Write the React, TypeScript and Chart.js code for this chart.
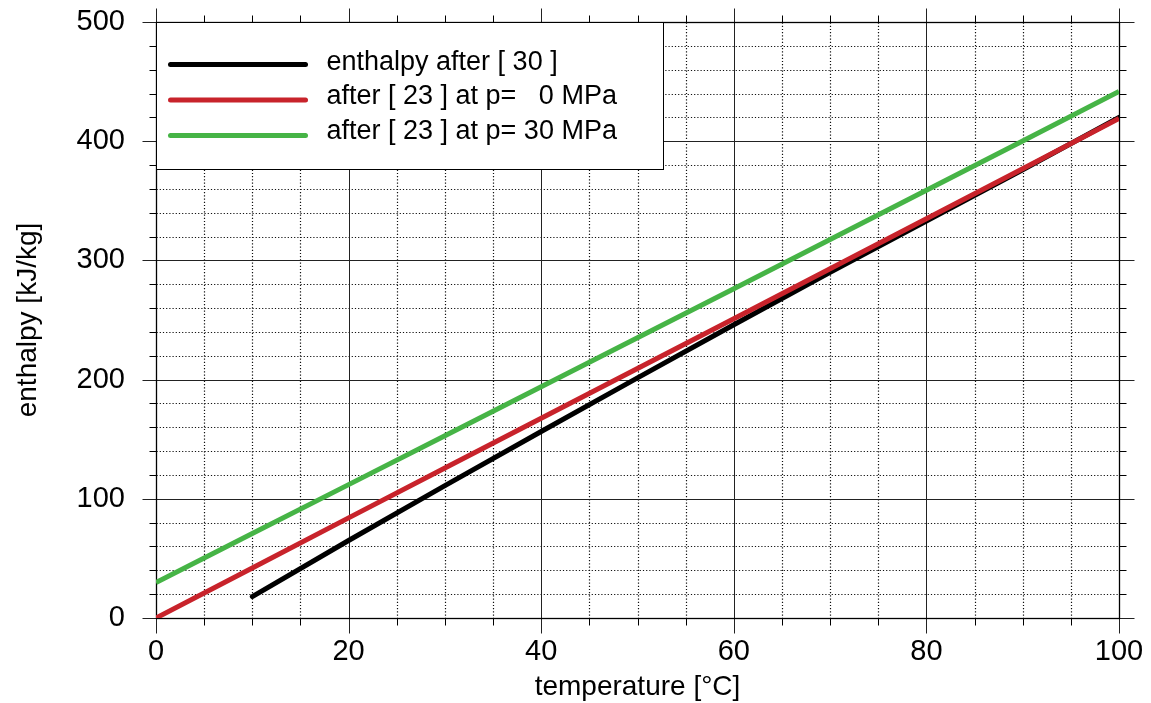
import React, { useEffect, useRef } from "react";
import { Chart, registerables } from "chart.js";

Chart.register(...registerables);

// Data (temperature in °C, enthalpy in kJ/kg)
const blackT = [10, 20, 30, 40, 50, 60, 70, 80, 90, 100];
const blackH = [18, 65, 111, 156.5, 201.5, 246, 290, 333, 376, 420];
const redT = [0, 10, 20, 30, 40, 50, 60, 70, 80, 90, 100];
const redH = [0, 42, 84, 125.8, 167.5, 209.3, 251.1, 293, 334.9, 376.9, 419];
const greenT = [0, 10, 20, 30, 40, 50, 60, 70, 80, 90, 100];
const greenH = [29.8, 70.9, 111.9, 152.9, 194, 235.1, 276.3, 317.5, 358.8, 400.2, 441.7];

const legendLabels = [
  "enthalpy after [ 30 ]",
  "after [ 23 ] at p=   0 MPa",
  "after [ 23 ] at p= 30 MPa",
];
const seriesColors = ["#000000", "#c8232b", "#46b446"];

const xTitle = "temperature [°C]";
const yTitle = "enthalpy [kJ/kg]";

const FONT = "'Liberation Sans', Arial, sans-serif";

const gridPlugin = {
  id: "customGrid",
  beforeDatasetsDraw(chart: any) {
    const { ctx, chartArea: a, scales } = chart;
    const x = scales.x;
    const y = scales.y;
    const line = (x1: number, y1: number, x2: number, y2: number) => {
      ctx.beginPath();
      ctx.moveTo(x1, y1);
      ctx.lineTo(x2, y2);
      ctx.stroke();
    };
    const px = (v: number) => Math.round(x.getPixelForValue(v)) + 0.5;
    const py = (v: number) => Math.round(y.getPixelForValue(v)) + 0.5;
    const L = Math.round(a.left) + 0.5;
    const R = Math.round(a.right) + 0.5;
    const T = Math.round(a.top) + 0.5;
    const B = Math.round(a.bottom) + 0.5;
    ctx.save();
    // minor dotted grid
    ctx.strokeStyle = "#111";
    ctx.lineWidth = 1.2;
    ctx.setLineDash([1.2, 2]);
    for (let v = 5; v < 100; v += 5) {
      if (v % 20 !== 0) line(px(v), T, px(v), B);
    }
    for (let v = 20; v < 500; v += 20) {
      if (v % 100 !== 0) line(L, py(v), R, py(v));
    }
    ctx.setLineDash([]);
    ctx.lineWidth = 1;
    // minor ticks outside
    ctx.strokeStyle = "#000";
    for (let v = 5; v < 100; v += 5) {
      if (v % 20 !== 0) {
        line(px(v), B, px(v), B + 7);
        line(px(v), T, px(v), T - 7);
      }
    }
    for (let v = 20; v < 500; v += 20) {
      if (v % 100 !== 0) {
        line(L, py(v), L - 7, py(v));
        line(R, py(v), R + 7, py(v));
      }
    }
    // major grid, extended outside
    ctx.strokeStyle = "#222";
    for (let v = 0; v <= 100; v += 20) line(px(v), T - 14, px(v), B + 15);
    for (let v = 0; v <= 500; v += 100) line(L - 14, py(v), R + 15, py(v));
    // frame
    ctx.strokeStyle = "#000";
    ctx.lineWidth = 1.3;
    ctx.strokeRect(L, T, R - L, B - T);
    ctx.restore();
  },
};

const legendPlugin = {
  id: "customLegend",
  afterDraw(chart: any) {
    const { ctx, chartArea: a } = chart;
    const L = Math.round(a.left) + 0.5;
    const T = Math.round(a.top) + 0.5;
    ctx.save();
    ctx.fillStyle = "#fff";
    ctx.fillRect(L, T, 507, 147);
    ctx.strokeStyle = "#000";
    ctx.lineWidth = 1;
    ctx.strokeRect(L, T, 507, 147);
    ctx.font = `27px ${FONT}`;
    ctx.textBaseline = "alphabetic";
    ctx.textAlign = "left";
    legendLabels.forEach((lab, i) => {
      const ly = T + 42 + i * 35.5;
      ctx.strokeStyle = seriesColors[i];
      ctx.lineWidth = 5;
      ctx.lineCap = "round";
      ctx.beginPath();
      ctx.moveTo(L + 14, ly);
      ctx.lineTo(L + 149, ly);
      ctx.stroke();
      ctx.fillStyle = "#000";
      ctx.fillText(lab, L + 170, T + 47 + i * 34.5);
    });
    ctx.restore();
  },
};

export default function App() {
  const ref = useRef<HTMLCanvasElement | null>(null);
  useEffect(() => {
    if (!ref.current) return;
    const toPts = (xs: number[], ys: number[]) => xs.map((t, i) => ({ x: t, y: ys[i] }));
    const chart = new Chart(ref.current, {
      type: "line",
      data: {
        datasets: [
          {
            label: legendLabels[0],
            data: toPts(blackT, blackH),
            borderColor: seriesColors[0],
            borderWidth: 5,
            borderCapStyle: "round",
            pointRadius: 0,
            tension: 0,
            order: 3,
          },
          {
            label: legendLabels[1],
            data: toPts(redT, redH),
            borderColor: seriesColors[1],
            borderWidth: 5,
            borderCapStyle: "butt",
            pointRadius: 0,
            tension: 0,
            order: 2,
          },
          {
            label: legendLabels[2],
            data: toPts(greenT, greenH),
            borderColor: seriesColors[2],
            borderWidth: 5,
            borderCapStyle: "butt",
            pointRadius: 0,
            tension: 0,
            order: 1,
          },
        ],
      },
      options: {
        animation: false,
        responsive: false,
        devicePixelRatio: 1,
        layout: { padding: { top: 22, right: 32, left: 0, bottom: 0 } },
        plugins: { legend: { display: false }, tooltip: { enabled: false } },
        scales: {
          x: {
            type: "linear",
            min: 0,
            max: 100,
            grid: { display: false, drawTicks: false },
            border: { display: false },
            ticks: {
              stepSize: 20,
              padding: 17,
              color: "#000",
              font: { family: FONT, size: 29 },
              maxRotation: 0,
            },
            title: {
              display: true,
              text: xTitle,
              color: "#000",
              font: { family: FONT, size: 28 },
              padding: { top: 0, bottom: -1 },
            },
            afterFit: (s: any) => {
              s.height = 85;
              s.paddingLeft = 0;
              s.paddingRight = 0;
            },
          },
          y: {
            type: "linear",
            min: 0,
            max: 500,
            grid: { display: false, drawTicks: false },
            border: { display: false },
            ticks: {
              stepSize: 100,
              padding: 31,
              color: "#000",
              font: { family: FONT, size: 29 },
            },
            title: {
              display: true,
              text: yTitle,
              color: "#000",
              font: { family: FONT, size: 28 },
              padding: { top: 11, bottom: 0 },
            },
            afterFit: (s: any) => {
              s.width = 156;
              s.paddingTop = 0;
              s.paddingBottom = 0;
            },
          },
        },
      },
      plugins: [gridPlugin, legendPlugin],
    });
    return () => chart.destroy();
  }, []);
  return (
    <div style={{ position: "absolute", left: 0, top: 0, width: 1151, height: 703, background: "#fff" }}>
      <canvas ref={ref} width={1151} height={703} style={{ display: "block" }} />
    </div>
  );
}
